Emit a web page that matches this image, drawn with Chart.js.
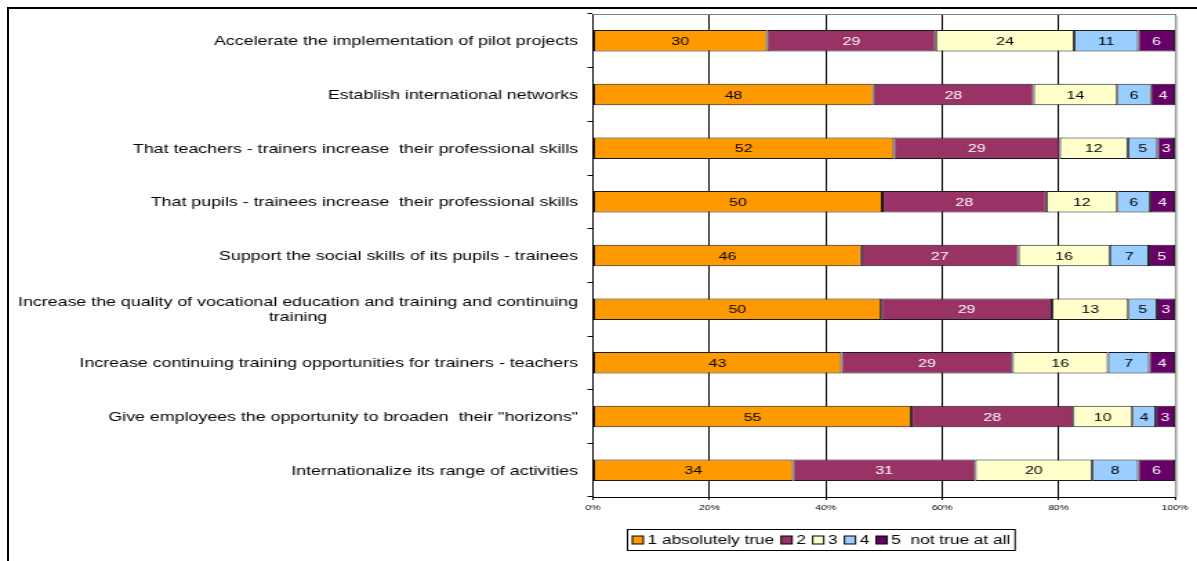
<!DOCTYPE html>
<html>
<head>
<meta charset="utf-8">
<script src="https://cdn.jsdelivr.net/npm/chart.js@4/dist/chart.umd.min.js"></script>
<style>
  html, body { margin: 0; padding: 0; background: #fff; }
  body { width: 1197px; height: 561px; overflow: hidden; position: relative; }
  #frame { position: absolute; left: 7px; top: 7px; width: 1200px; height: 600px;
           border-top: 2px solid #000; border-left: 2px solid #000; box-sizing: border-box; }
  #wrap { position: absolute; left: 0; top: 0; width: 867px; height: 561px;
          transform: scaleX(1.38062); transform-origin: 0 0; }
</style>
</head>
<body>
<div id="frame"></div>
<div id="wrap"><canvas id="c" width="867" height="561"></canvas></div>
<script>
// ---- data ----
const categories = [
  "Accelerate the implementation of pilot projects",
  "Establish international networks",
  "That teachers - trainers increase  their professional skills",
  "That pupils - trainees increase  their professional skills",
  "Support the social skills of its pupils - trainees",
  ["Increase the quality of vocational education and training and continuing", "training"],
  "Increase continuing training opportunities for trainers - teachers",
  "Give employees the opportunity to broaden  their \"horizons\"",
  "Internationalize its range of activities"
];
const seriesNames = ["1 absolutely true", "2", "3", "4", "5  not true at all"];
const s1 = [29.9, 48.2, 51.7, 49.7, 46.1, 49.5, 42.7, 54.7, 34.4];
const s2 = [29.0, 27.5, 28.5, 28.2, 27.0, 29.4, 29.4, 27.8, 31.3];
const s3 = [23.8, 14.4, 11.7, 12.2, 15.7, 13.1, 16.4, 10.2, 20.1];
const s4 = [11.0, 5.8, 5.1, 5.6, 6.7, 4.9, 7.1, 4.0, 7.9];
const s5 = [6.3, 4.1, 3.0, 4.3, 4.5, 3.1, 4.4, 3.3, 6.3];
const xTickValues = [0, 20, 40, 60, 80, 100];

// ---- styles ----
const FONT = '"Liberation Sans", Arial, sans-serif';
const fills = ["#FF9900", "#993366", "#FFFFCC", "#99CCFF", "#660066"];
const labelColors = ["#000", "#fff", "#000", "#000", "#fff"];
const seriesValues = [s1, s2, s3, s4, s5];

Chart.defaults.font.family = FONT;
Chart.defaults.color = "#000";

const datasets = seriesValues.map((vals, i) => ({
  label: seriesNames[i],
  data: vals,
  backgroundColor: fills[i],
  borderColor: "#1a1a1a",
  borderWidth: 1,
  borderSkipped: false,
  barPercentage: 0.4,
  categoryPercentage: 1.0
}));

const framePlugin = {
  id: "frameLines",
  beforeDatasetsDraw(chart) {
    const { ctx, chartArea: a } = chart;
    ctx.save();
    ctx.strokeStyle = "#808080";
    ctx.lineWidth = 1;
    ctx.beginPath();
    ctx.moveTo(a.left, a.top + 0.5);
    ctx.lineTo(a.right, a.top + 0.5);
    ctx.stroke();
    ctx.strokeStyle = "#d4d4d4";
    ctx.lineWidth = 1.5;
    ctx.beginPath();
    ctx.moveTo(a.right + 1.5, a.top + 2);
    ctx.lineTo(a.right + 1.5, a.bottom);
    ctx.stroke();
    ctx.restore();
  }
};

const dataLabelPlugin = {
  id: "dataLabels",
  afterDatasetsDraw(chart) {
    const ctx = chart.ctx;
    ctx.save();
    ctx.font = "11.5px " + FONT;
    ctx.textAlign = "center";
    ctx.textBaseline = "middle";
    chart.data.datasets.forEach((ds, di) => {
      const meta = chart.getDatasetMeta(di);
      meta.data.forEach((el, i) => {
        const p = el.getCenterPoint();
        ctx.fillStyle = labelColors[di];
        ctx.fillText(String(Math.round(ds.data[i])), p.x, p.y + 1);
      });
    });
    ctx.restore();
  }
};

const yLabelPlugin = {
  id: "yLabels",
  afterDraw(chart) {
    const ctx = chart.ctx;
    const ys = chart.scales.y;
    const xRight = chart.chartArea.left - 10.8;
    ctx.save();
    ctx.font = "12.9px " + FONT;
    ctx.fillStyle = "#000";
    ctx.textAlign = "center";
    ctx.textBaseline = "middle";
    chart.data.labels.forEach((lab, i) => {
      const lines = Array.isArray(lab) ? lab : [lab];
      const maxW = Math.max(...lines.map(l => ctx.measureText(l).width));
      const cx = xRight - maxW / 2;
      const lh = 15.5;
      const y0 = ys.getPixelForValue(i) - (lines.length - 1) * lh / 2;
      lines.forEach((l, k) => ctx.fillText(l, cx, y0 + k * lh + 1));
    });
    ctx.restore();
  }
};

const legendPlugin = {
  id: "boxLegend",
  afterDraw(chart) {
    const ctx = chart.ctx;
    const a = chart.chartArea;
    ctx.save();
    ctx.font = "12.5px " + FONT;
    const box = 8, gap = 3, spacing = 5, pad = 3.5, h = 21;
    const items = chart.data.datasets.map(ds => ({
      label: ds.label, color: ds.backgroundColor,
      w: box + gap + ctx.measureText(ds.label).width
    }));
    const total = items.reduce((s, it) => s + it.w, 0) + spacing * (items.length - 1);
    const boxW = total + 2 * pad;
    const cx = a.left + 0.39 * (a.right - a.left);
    const left = Math.round(cx - boxW / 2) + 0.5;
    const top = Math.round(a.bottom + 32) + 0.5;
    ctx.fillStyle = "#fff";
    ctx.fillRect(left, top, boxW, h);
    ctx.strokeStyle = "#000";
    ctx.lineWidth = 1;
    ctx.strokeRect(left, top, boxW, h);
    let x = left + pad;
    ctx.textBaseline = "middle";
    ctx.textAlign = "left";
    items.forEach(it => {
      const by = top + (h - box) / 2;
      ctx.fillStyle = it.color;
      ctx.fillRect(x, by, box, box);
      ctx.strokeStyle = "#000";
      ctx.strokeRect(x, by, box, box);
      ctx.fillStyle = "#000";
      ctx.fillText(it.label, x + box + gap, top + h / 2 + 0.5);
      x += it.w + spacing;
    });
    ctx.restore();
  }
};

new Chart(document.getElementById("c"), {
  type: "bar",
  data: { labels: categories, datasets },
  options: {
    indexAxis: "y",
    responsive: false,
    animation: false,
    layout: { padding: { left: 0, right: 16, top: 14, bottom: 44 } },
    plugins: { legend: { display: false }, tooltip: { enabled: false } },
    scales: {
      x: {
        stacked: true,
        min: 0,
        max: 100,
        afterBuildTicks(scale) { scale.ticks = xTickValues.map(v => ({ value: v })); },
        afterFit(scale) { scale.height = 20; },
        ticks: {
          font: { size: 7.5 },
          color: "#000",
          padding: 3,
          callback: v => v + "%"
        },
        grid: {
          color: ctx => (ctx.index === xTickValues.length - 1 ? "#808080" : "#000"),
          lineWidth: 1,
          drawTicks: true,
          tickLength: 3,
          tickColor: "#000"
        },
        border: { display: true, color: "#000", width: 1 }
      },
      y: {
        stacked: true,
        afterFit(scale) { scale.width = 429.5; },
        ticks: { color: "rgba(0,0,0,0)", font: { size: 12.9 } },
        grid: {
          drawOnChartArea: false,
          offset: true,
          drawTicks: true,
          tickLength: 4,
          tickColor: "#000",
          color: "#000"
        },
        border: { display: true, color: "#000", width: 1 }
      }
    }
  },
  plugins: [framePlugin, dataLabelPlugin, yLabelPlugin, legendPlugin]
});
</script>
</body>
</html>
